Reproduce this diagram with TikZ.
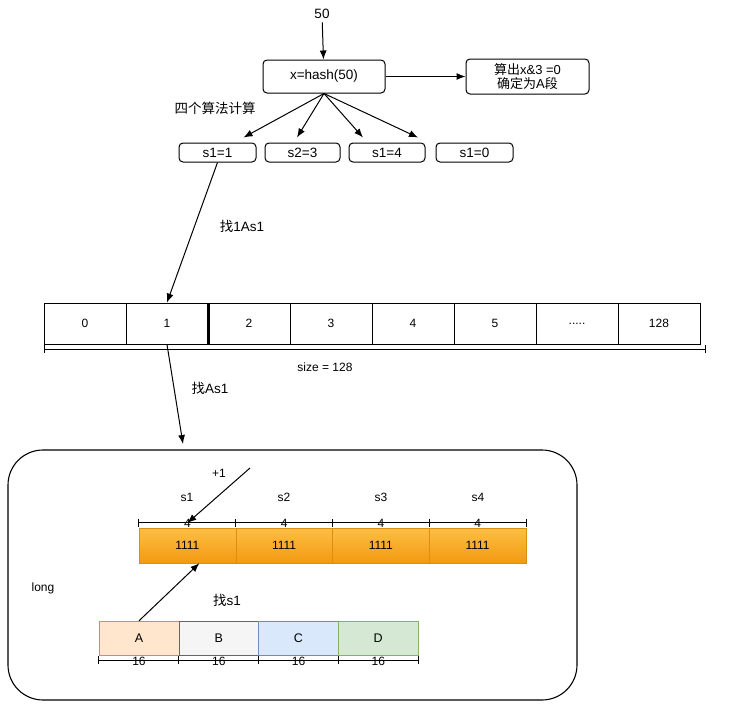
\documentclass[tikz,border=0pt]{standalone}
\usepackage{fontspec}
\setmainfont{Liberation Sans}
\newfontfamily\cjk{Noto Sans CJK SC}
\usetikzlibrary{arrows.meta}
\definecolor{barTop}{HTML}{FDBE45}
\definecolor{barBot}{HTML}{F29A10}
\definecolor{barLine}{HTML}{DC8E12}
\begin{document}
\begin{tikzpicture}[x=1pt,y=-1pt,font=\fontsize{13.5}{16}\selectfont,>={Latex[length=9pt,width=7pt]}]
    \tikzstyle{rbox}=[draw, rounded corners=4pt, inner sep=0pt, line width=1pt]
    \tikzstyle{cell}=[draw, line width=0.9pt, minimum width=82pt, minimum height=41pt, inner sep=0pt, font=\fontsize{12}{14}\selectfont]
    \tikzstyle{bar}=[draw=barLine, top color=barTop, bottom color=barBot, minimum width=96.75pt, minimum height=35pt, inner sep=0pt, font=\fontsize{12}{14}\selectfont]
    \tikzstyle{part}=[draw, minimum width=79.75pt, minimum height=34pt, inner sep=0pt, font=\fontsize{12.5}{14}\selectfont]
    \tikzstyle{lbl}=[inner sep=1pt, font=\fontsize{12}{14}\selectfont]
    \tikzstyle{conn}=[->, line width=1pt]
    \useasboundingbox (0,0) rectangle (737,720);

    % hash part
    \node (v50) at (322,14) {50};
    \node[rbox, minimum width=122pt, minimum height=33pt] (hash) at (324,76.5) {x=hash(50)};
    \node[rbox, minimum width=123pt, minimum height=35pt, align=center, font=\fontsize{13}{14}\selectfont] (res) at (527.5,76.5) {{\cjk 算出}x\&3 =0\\{\cjk 确定为}A{\cjk 段}};
    \node (algo) at (215,108) {\cjk 四个算法计算};
    \node[rbox, minimum width=77pt, minimum height=19pt] (sa) at (217.5,152.5) {s1=1};
    \node[rbox, minimum width=75pt, minimum height=19pt] (sb) at (302.5,152.5) {s2=3};
    \node[rbox, minimum width=76pt, minimum height=19pt] (sc) at (387,152.5) {s1=4};
    \node[rbox, minimum width=77pt, minimum height=19pt] (sd) at (474.5,152.5) {s1=0};
    \draw[conn] (v50) -- (hash);
    \draw[conn] (hash) -- (res);
    \draw[conn] (hash.south) -- ([xshift=26pt,yshift=5pt]sa.north);
    \draw[conn] (hash.south) -- ([xshift=-5.5pt,yshift=5pt]sb.north);
    \draw[conn] (hash.south) -- ([xshift=-24pt,yshift=5pt]sc.north);
    \draw[conn] (hash.south) -- ([xshift=31pt,yshift=5pt]sc.north);

    % array
    \node[cell] (c0) at (85,323.5) {0};
    \node[cell] (c1) at (167,323.5) {1};
    \node[cell] (c2) at (249,323.5) {2};
    \node[cell] (c3) at (331,323.5) {3};
    \node[cell] (c4) at (413,323.5) {4};
    \node[cell] (c5) at (495,323.5) {5};
    \node[cell] (c6) at (577,323.5) {.....};
    \node[cell] (c7) at (659,323.5) {128};
    \draw[line width=2.2pt] (c1.north east) -- (c1.south east);
    \coordinate (dl) at (44,349);
    \coordinate (dr) at (706,349);
    \draw[{Bar[width=8pt]}-{Bar[width=8pt]}, line width=1pt] (dl) -- (dr);
    \node[lbl] (size) at (325,367) {size = 128};
    \draw[conn] (sa.south) -- (c1.north);
    \node (find1) at (242,226) {{\cjk 找}1As1};

    % long
    \node[draw, line width=1.1pt, rounded corners=35pt, minimum width=569pt, minimum height=250pt] (box) at (292.5,575) {};
    \coordinate (lt) at (183,444);
    \draw[conn] (c1.south) -- (lt);
    \node (find2) at (210,388) {{\cjk 找}As1};
    \node[lbl] (long) at (43,588) {long};

    \node[lbl] (t1) at (187,497) {s1};
    \node[lbl] (t2) at (284,497) {s2};
    \node[lbl] (t3) at (381,497) {s3};
    \node[lbl] (t4) at (478,497) {s4};
    \node[bar] (b1) at (187.4,545.5) {1111};
    \node[bar] (b2) at (284.1,545.5) {1111};
    \node[bar] (b3) at (380.9,545.5) {1111};
    \node[bar] (b4) at (477.6,545.5) {1111};
    \draw[line width=1pt] ([yshift=5pt]b1.north west) -- ([yshift=5pt]b4.north east);
    \draw[line width=1pt] ([yshift=1pt]b1.north west) -- ([yshift=9pt]b1.north west);
    \draw[line width=1pt] ([yshift=1pt]b2.north west) -- ([yshift=9pt]b2.north west);
    \draw[line width=1pt] ([yshift=1pt]b3.north west) -- ([yshift=9pt]b3.north west);
    \draw[line width=1pt] ([yshift=1pt]b4.north west) -- ([yshift=9pt]b4.north west);
    \draw[line width=1pt] ([yshift=1pt]b4.north east) -- ([yshift=9pt]b4.north east);
    \node[lbl] (w1) at (187.4,523) {4};
    \node[lbl] (w2) at (284.1,523) {4};
    \node[lbl] (w3) at (380.9,523) {4};
    \node[lbl] (w4) at (477.6,523) {4};
    \coordinate (pl) at (250,468);
    \draw[conn] (pl) -- (w1.center);
    \node[lbl] (plus) at (219,473) {+1};

    \node[part, fill={rgb,255:red,255;green,230;blue,204}, draw={rgb,255:red,215;green,155;blue,0}] (pa) at (139,638) {A};
    \node[part, fill={rgb,255:red,245;green,245;blue,245}, draw={rgb,255:red,102;green,102;blue,102}] (pb) at (218.75,638) {B};
    \node[part, fill={rgb,255:red,218;green,232;blue,252}, draw={rgb,255:red,108;green,142;blue,191}] (pc) at (298.5,638) {C};
    \node[part, fill={rgb,255:red,213;green,232;blue,212}, draw={rgb,255:red,130;green,179;blue,102}] (pd) at (378.25,638) {D};
    \draw[line width=1pt] ([yshift=-5pt]pa.south west) -- ([yshift=-5pt]pd.south east);
    \draw[line width=1pt] ([yshift=-1pt]pa.south west) -- ([yshift=-9pt]pa.south west);
    \draw[line width=1pt] ([yshift=-1pt]pb.south west) -- ([yshift=-9pt]pb.south west);
    \draw[line width=1pt] ([yshift=-1pt]pc.south west) -- ([yshift=-9pt]pc.south west);
    \draw[line width=1pt] ([yshift=-1pt]pd.south west) -- ([yshift=-9pt]pd.south west);
    \draw[line width=1pt] ([yshift=-1pt]pd.south east) -- ([yshift=-9pt]pd.south east);
    \node[lbl] (u1) at (139,661) {16};
    \node[lbl] (u2) at (218.75,661) {16};
    \node[lbl] (u3) at (298.5,661) {16};
    \node[lbl] (u4) at (378.25,661) {16};
    \draw[conn] (pa.north) -- ([xshift=12pt]b1.south);
    \node (finds) at (227,600) {{\cjk 找}s1};
\end{tikzpicture}
\end{document}
